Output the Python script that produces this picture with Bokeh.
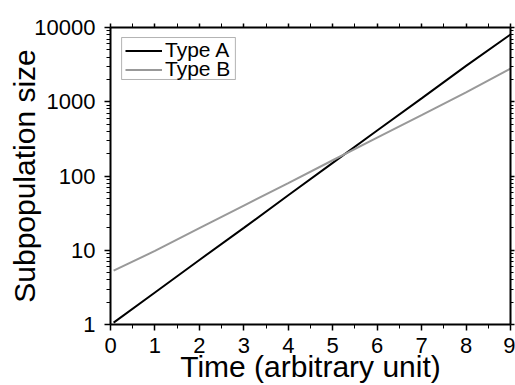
from bokeh.plotting import figure
from bokeh.models import (FixedTicker, LinearAxis, LogAxis, Range1d,
                          PrintfTickFormatter, CustomJSTickFormatter,
                          Legend, LegendItem, BoxAnnotation)
from bokeh.embed import file_html
from bokeh.resources import INLINE

# data
time_a = [0.07, 1, 2, 3, 4, 5, 6, 7, 8, 9]
size_a = [1.06, 2.7, 7.4, 20, 55, 150, 410, 1110, 3040, 8050]
time_b = [0.07, 1, 2, 3, 4, 5, 6, 7, 8, 9]
size_b = [5.3, 9.8, 19.8, 40, 80, 163, 328, 662, 1340, 2800]
series_names = ["Type A", "Type B"]

x_ticks = [0, 1, 2, 3, 4, 5, 6, 7, 8, 9]
x_minor = [0.5, 1.5, 2.5, 3.5, 4.5, 5.5, 6.5, 7.5, 8.5]
y_ticks = [1, 10, 100, 1000, 10000]
y_minor = [m * d for d in [1, 10, 100, 1000] for m in [2, 3, 4, 5, 6, 7, 8, 9]]

FONT = "Liberation Sans"

p = figure(width=515, height=385, y_axis_type="log",
           x_range=Range1d(0, 9), y_range=Range1d(1, 10000),
           output_backend="svg", toolbar_location=None,
           min_border_left=110, min_border_top=27,
           min_border_right=5, min_border_bottom=61)
p.background_fill_color = "white"
p.border_fill_color = "white"
p.outline_line_color = None
p.grid.visible = False

la = p.line(time_a, size_a, line_color="black", line_width=2)
lb = p.line(time_b, size_b, line_color="#999999", line_width=2)


def style(ax, labels=True):
    ax.axis_line_color = "black"
    ax.axis_line_width = 2
    ax.major_tick_line_color = "black"
    ax.minor_tick_line_color = "black"
    ax.major_tick_line_width = 1.5
    ax.minor_tick_line_width = 1
    ax.major_tick_in = 0
    ax.major_tick_out = 6
    ax.minor_tick_in = 0
    ax.minor_tick_out = 4
    if labels:
        ax.major_label_text_font = FONT
        ax.major_label_text_font_size = "22px"
        ax.major_label_text_color = "black"
        ax.axis_label_text_font = FONT
        ax.axis_label_text_font_size = "30px"
        ax.axis_label_text_font_style = "normal"
        ax.axis_label_text_color = "black"
    else:
        ax.formatter = CustomJSTickFormatter(code="return '';")
        ax.major_label_text_font_size = "1px"
        ax.major_label_standoff = 0


xa = p.xaxis[0]
xa.ticker = FixedTicker(ticks=x_ticks, minor_ticks=x_minor)
style(xa)
xa.major_label_standoff = 7
xa.axis_label = "Time (arbitrary unit)"
xa.axis_label_standoff = -6

ya = p.yaxis[0]
ya.ticker = FixedTicker(ticks=y_ticks, minor_ticks=y_minor)
ya.formatter = PrintfTickFormatter(format="%d")
style(ya)
ya.major_label_standoff = 9
ya.axis_label = "Subpopulation size"
ya.axis_label_standoff = -10

top = LinearAxis(ticker=FixedTicker(ticks=x_ticks, minor_ticks=x_minor))
style(top, labels=False)
top.major_tick_out = 4
p.add_layout(top, "above")

right = LogAxis(ticker=FixedTicker(ticks=y_ticks, minor_ticks=y_minor))
style(right, labels=False)
right.major_tick_out = 4
right.minor_tick_out = 3
p.add_layout(right, "right")

# legend frame (position of the legend box, not data)
legend_box = BoxAnnotation(left=0.25, right=2.81, top=7330, bottom=1994,
                           fill_color="white", fill_alpha=1,
                           line_color="black", line_width=1)
p.add_layout(legend_box)


def make_legend(name, renderer, loc):
    lg = Legend(items=[LegendItem(label=name, renderers=[renderer])],
                location=loc)
    lg.margin = 0
    lg.padding = 0
    lg.spacing = 0
    lg.glyph_width = 37
    lg.glyph_height = 19
    lg.label_height = 19
    lg.label_standoff = 3
    lg.label_text_font = FONT
    lg.label_text_font_size = "21px"
    lg.label_text_color = "black"
    lg.border_line_color = None
    lg.background_fill_alpha = 0
    return lg


p.add_layout(make_legend(series_names[0], la, (15, 262)))
p.add_layout(make_legend(series_names[1], lb, (15, 243)))

open("out.html", "w").write(file_html(p, INLINE))
